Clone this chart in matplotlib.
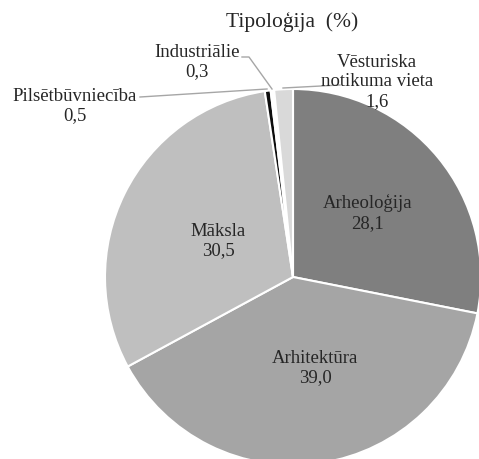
import matplotlib
matplotlib.use("Agg")
import matplotlib.pyplot as plt

# Data
categories = ["Arheoloģija", "Arhitektūra", "Māksla", "Pilsētbūvniecība",
              "Industriālie", "Vēsturiska\nnotikuma vieta"]
values = [28.1, 39.0, 30.5, 0.5, 0.3, 1.6]
colors = ["#7f7f7f", "#a5a5a5", "#bfbfbf", "#0d0d0d", "#ffffff", "#d9d9d9"]

plt.rcParams['font.family'] = ['Liberation Serif', 'DejaVu Serif']

W, H = 479, 459
CX, CY, R = 293, 277, 188

fig = plt.figure(figsize=(W / 100, H / 100), dpi=100)
ax = fig.add_axes([0, 0, 1, 1])


def px(x, y):
    # pixel position -> data coords (pie radius = 1)
    return (x - CX) / R, (CY - y) / R


ax.pie(values, colors=colors, startangle=90, counterclock=False, radius=1,
       wedgeprops=dict(edgecolor="white", linewidth=1.5))
ax.set_aspect("auto")
ax.set_xlim(-CX / R, (W - CX) / R)
ax.set_ylim(-(H - CY) / R, CY / R)
ax.axis("off")

fmt = lambda v: f"{v:.1f}".replace(".", ",")
txt = dict(fontsize=13.5, color="#262626", ha="center", va="center", linespacing=1.2)

# labels inside the big slices
inside = [(368, 213), (315, 368), (218, 241)]
for i, pos in enumerate(inside):
    ax.text(*px(*pos), f"{categories[i]}\n{fmt(values[i])}", **txt)

# outside labels with leader lines
outside = {
    3: ((75, 106), [(140, 97), (267, 89)]),
    4: ((197, 62), [(242, 57), (249, 57), (272, 89)]),
    5: ((377, 82), [(340, 85), (283, 88)]),
}
for i, (pos, line) in outside.items():
    ax.text(*px(*pos), f"{categories[i]}\n{fmt(values[i])}", **txt)
    xs, ys = zip(*[px(*p) for p in line])
    ax.plot(xs, ys, color="#a6a6a6", lw=1)

ax.text(*px(292, 22), "Tipoloģija  (%)", fontsize=15.5, color="#262626",
        ha="center", va="center")

fig.savefig("out.png", dpi=100)
